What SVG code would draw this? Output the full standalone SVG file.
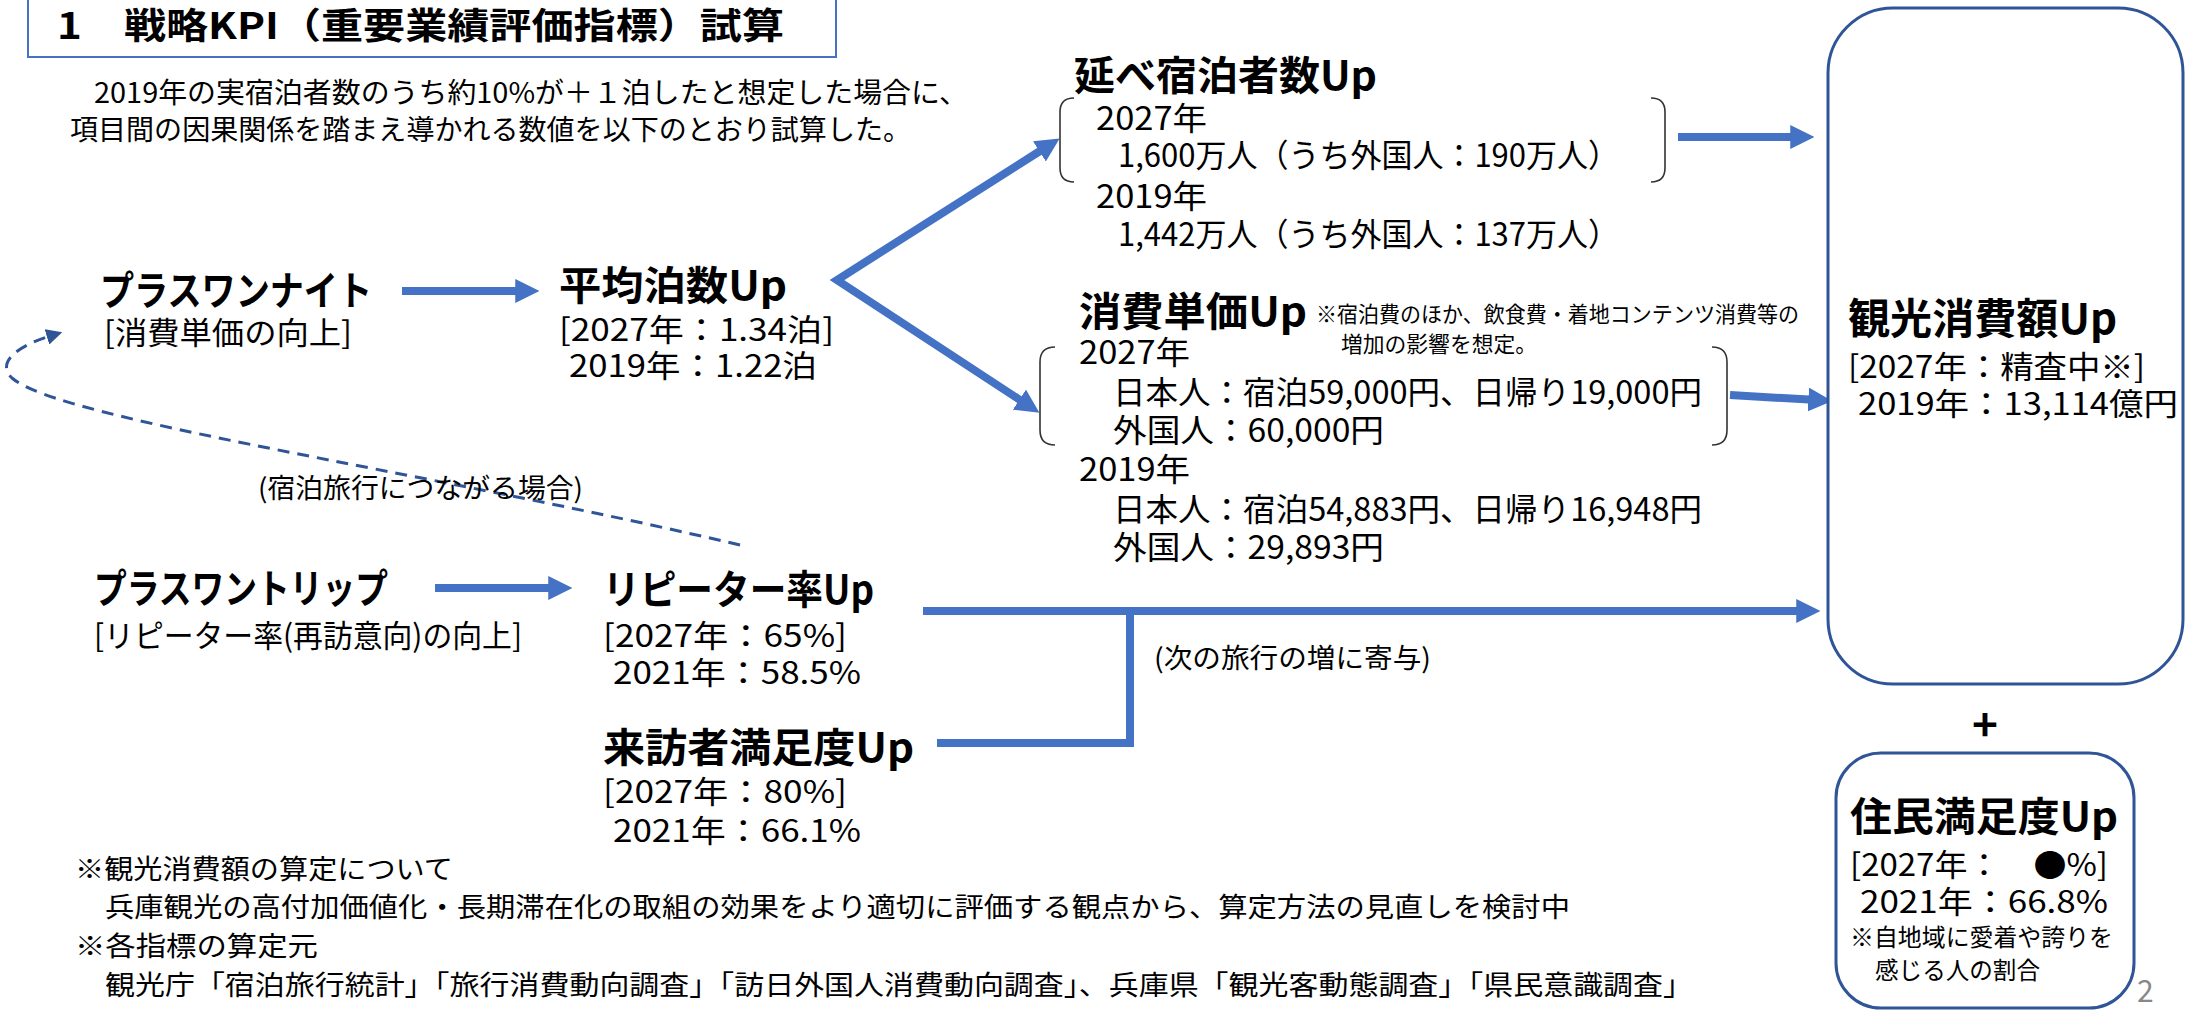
<svg xmlns="http://www.w3.org/2000/svg" width="2185" height="1012" viewBox="0 0 2185 1012">
<style>
text{font-family:"Noto Sans CJK JP","Noto Sans CJK SC",sans-serif;fill:#000;}
.h{font-weight:700;font-size:40px;}
.b{font-size:31px;}
.m{font-size:32px;}
.s{font-size:27px;}
.n{font-size:22px;}
.t{font-size:24px;}
.box{fill:#fff;stroke:#2F5597;stroke-width:3;}
.br{fill:none;stroke:#333;stroke-width:1.6;}
.arr{fill:none;stroke:#4472C4;stroke-width:8;marker-end:url(#ah);}
.ln{fill:none;stroke:#4472C4;stroke-width:8;}
.dash{fill:none;stroke:#2F5597;stroke-width:3;stroke-dasharray:12 8;marker-end:url(#dh);}
</style>
<defs>
<marker id="ah" viewBox="0 0 10 10" refX="0.3" refY="5" markerWidth="3" markerHeight="3" orient="auto-start-reverse"><path d="M0,0 L10,5 L0,10 z" fill="#4472C4"/></marker>
<marker id="dh" viewBox="0 0 10 10" refX="2" refY="5" markerWidth="16" markerHeight="16" markerUnits="userSpaceOnUse" orient="auto"><path d="M0,0 L10,5 L0,10 z" fill="#2F5597"/></marker>
</defs>
<rect width="2185" height="1012" fill="#fff"/>

<g id="title">
<rect x="28" y="-2" width="808" height="59" fill="#fff" stroke="#4472C4" stroke-width="2"/>
<text x="57" y="39" font-size="36" font-weight="700" textLength="727" lengthAdjust="spacingAndGlyphs">1　戦略KPI（重要業績評価指標）試算</text>
</g>
<g id="intro">
<text x="94" y="103" font-size="28" textLength="874" lengthAdjust="spacingAndGlyphs">2019年の実宿泊者数のうち約10%が＋１泊したと想定した場合に、</text>
<text x="70" y="140" font-size="28" textLength="841" lengthAdjust="spacingAndGlyphs">項目間の因果関係を踏まえ導かれる数値を以下のとおり試算した。</text>
</g>

<g id="connectors">
<line class="arr" x1="402" y1="291" x2="516" y2="291"/>
<line class="arr" x1="435" y1="588" x2="549" y2="588"/>
<path class="arr" d="M1040,151 L837,280 L1020,400" style="marker-start:url(#ah);stroke-linejoin:miter"/>
<line class="arr" x1="1678" y1="137" x2="1791" y2="137"/>
<line class="arr" x1="1730" y1="395" x2="1809" y2="399.6"/>
<line class="arr" x1="923" y1="611" x2="1797" y2="611"/>
<path class="ln" d="M937,743 L1130,743 L1130,611" stroke-linejoin="miter"/>
<path class="dash" d="M740,545 C420,470 60,420 12,378 C-5,362 20,345 50,336"/>
<text class="s" x="258" y="498" textLength="325" lengthAdjust="spacingAndGlyphs">(宿泊旅行につながる場合)</text>
<text class="s" x="1154" y="668" textLength="277" lengthAdjust="spacingAndGlyphs">(次の旅行の増に寄与)</text>
</g>

<g id="plus-one-night">
<text class="h" x="100" y="305" textLength="272" lengthAdjust="spacingAndGlyphs">プラスワンナイト</text>
<text class="b" x="104" y="344" textLength="248" lengthAdjust="spacingAndGlyphs">[消費単価の向上]</text>
</g>
<g id="avg-nights">
<text class="h" x="559" y="300" textLength="228" lengthAdjust="spacingAndGlyphs">平均泊数Up</text>
<text class="b" x="559" y="341" textLength="275" lengthAdjust="spacingAndGlyphs">[2027年：1.34泊]</text>
<text class="b" x="569" y="377" textLength="248" lengthAdjust="spacingAndGlyphs">2019年：1.22泊</text>
</g>
<g id="plus-one-trip">
<text class="h" x="94" y="603" textLength="294" lengthAdjust="spacingAndGlyphs">プラスワントリップ</text>
<text class="b" x="94" y="647" textLength="428" lengthAdjust="spacingAndGlyphs">[リピーター率(再訪意向)の向上]</text>
</g>
<g id="repeater">
<text class="h" x="603" y="604" textLength="271" lengthAdjust="spacingAndGlyphs">リピーター率Up</text>
<text class="b" x="603" y="647" textLength="244" lengthAdjust="spacingAndGlyphs">[2027年：65%]</text>
<text class="b" x="613" y="684" textLength="248" lengthAdjust="spacingAndGlyphs">2021年：58.5%</text>
</g>
<g id="visitor-satisfaction">
<text class="h" x="603" y="762" textLength="311" lengthAdjust="spacingAndGlyphs">来訪者満足度Up</text>
<text class="b" x="603" y="803" textLength="244" lengthAdjust="spacingAndGlyphs">[2027年：80%]</text>
<text class="b" x="613" y="842" textLength="248" lengthAdjust="spacingAndGlyphs">2021年：66.1%</text>
</g>

<g id="guest-nights">
<text class="h" x="1074" y="90" textLength="303" lengthAdjust="spacingAndGlyphs">延べ宿泊者数Up</text>
<path class="br" d="M1074,98 Q1060,98 1060,112 L1060,168 Q1060,182 1074,182"/>
<path class="br" d="M1651,98 Q1665,98 1665,112 L1665,168 Q1665,182 1651,182"/>
<text class="m" x="1096" y="130" textLength="111" lengthAdjust="spacingAndGlyphs">2027年</text>
<text class="m" x="1118" y="167" textLength="501" lengthAdjust="spacingAndGlyphs">1,600万人（うち外国人：190万人）</text>
<text class="m" x="1096" y="208" textLength="111" lengthAdjust="spacingAndGlyphs">2019年</text>
<text class="m" x="1118" y="246" textLength="501" lengthAdjust="spacingAndGlyphs">1,442万人（うち外国人：137万人）</text>
</g>
<g id="unit-price">
<text class="h" x="1079" y="326" textLength="228" lengthAdjust="spacingAndGlyphs">消費単価Up</text>
<text class="n" x="1316" y="322" textLength="483" lengthAdjust="spacingAndGlyphs">※宿泊費のほか、飲食費・着地コンテンツ消費等の</text>
<text class="n" x="1341" y="352" textLength="196" lengthAdjust="spacingAndGlyphs">増加の影響を想定。</text>
<path class="br" d="M1055,347 Q1040,347 1040,362 L1040,430 Q1040,445 1055,445"/>
<path class="br" d="M1712,347 Q1727,347 1727,362 L1727,430 Q1727,445 1712,445"/>
<text class="m" x="1079" y="364" textLength="111" lengthAdjust="spacingAndGlyphs">2027年</text>
<text class="m" x="1113" y="404" textLength="589" lengthAdjust="spacingAndGlyphs">日本人：宿泊59,000円、日帰り19,000円</text>
<text class="m" x="1113" y="442" textLength="271" lengthAdjust="spacingAndGlyphs">外国人：60,000円</text>
<text class="m" x="1079" y="481" textLength="111" lengthAdjust="spacingAndGlyphs">2019年</text>
<text class="m" x="1113" y="521" textLength="589" lengthAdjust="spacingAndGlyphs">日本人：宿泊54,883円、日帰り16,948円</text>
<text class="m" x="1113" y="559" textLength="271" lengthAdjust="spacingAndGlyphs">外国人：29,893円</text>
</g>

<g id="tourism-spending">
<rect class="box" x="1828" y="8" width="355" height="676" rx="65" ry="65"/>
<text x="1848" y="334" font-size="42" font-weight="700" textLength="269" lengthAdjust="spacingAndGlyphs">観光消費額Up</text>
<text class="b" x="1848" y="378" textLength="297" lengthAdjust="spacingAndGlyphs">[2027年：精査中※]</text>
<text class="b" x="1858" y="415" textLength="320" lengthAdjust="spacingAndGlyphs">2019年：13,114億円</text>
</g>
<g id="plus">
<text x="1985" y="741" font-size="44" font-weight="700" text-anchor="middle">+</text>
</g>
<g id="resident-satisfaction">
<rect class="box" x="1836" y="753" width="298" height="255" rx="45" ry="45"/>
<text class="h" x="1850" y="831" textLength="268" lengthAdjust="spacingAndGlyphs">住民満足度Up</text>
<text class="b" x="1850" y="876" textLength="258" lengthAdjust="spacingAndGlyphs">[2027年：　●%]</text>
<text class="b" x="1860" y="913" textLength="248" lengthAdjust="spacingAndGlyphs">2021年：66.8%</text>
<text class="t" x="1850" y="946" textLength="263" lengthAdjust="spacingAndGlyphs">※自地域に愛着や誇りを</text>
<text class="t" x="1875" y="979" textLength="165" lengthAdjust="spacingAndGlyphs">感じる人の割合</text>
</g>

<g id="notes">
<text class="s" x="75" y="879" textLength="378" lengthAdjust="spacingAndGlyphs">※観光消費額の算定について</text>
<text class="s" x="105" y="917" textLength="1465" lengthAdjust="spacingAndGlyphs">兵庫観光の高付加価値化・長期滞在化の取組の効果をより適切に評価する観点から、算定方法の見直しを検討中</text>
<text class="s" x="75" y="956" textLength="243" lengthAdjust="spacingAndGlyphs">※各指標の算定元</text>
<text class="s" x="105" y="995" textLength="1588" lengthAdjust="spacingAndGlyphs">観光庁「宿泊旅行統計」「旅行消費動向調査」「訪日外国人消費動向調査」、兵庫県「観光客動態調査」「県民意識調査」</text>
</g>
<g id="page-number">
<text x="2137" y="1002" font-size="30" style="fill:#888">2</text>
</g>
</svg>
